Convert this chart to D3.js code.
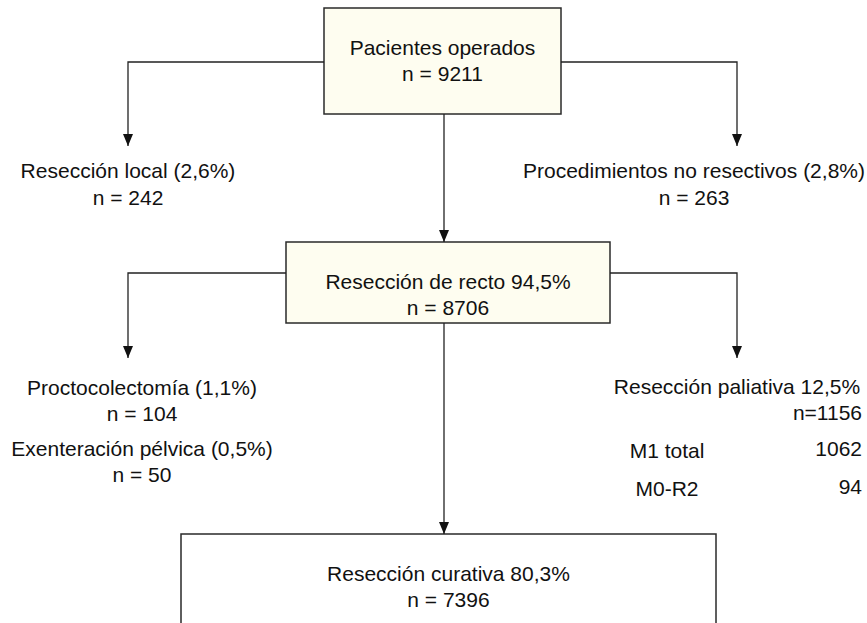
<!DOCTYPE html>
<html>
<head>
<meta charset="utf-8">
<script src="https://cdn.jsdelivr.net/npm/d3@7"></script>
<style>
  body { margin: 0; background: #fff; }
  text { font-family: "Liberation Sans", Arial, Helvetica, sans-serif; font-size: 21px; fill: #111; }
</style>
</head>
<body>
<div class="chart"></div>
<script>
var svgWidth = 867;
var svgHeight = 623;

// flow data
var boxTitles = ["Pacientes operados", "Resección de recto 94,5%", "Resección curativa 80,3%"];
var boxN = [9211, 8706, 7396];
var leftTitles = [["Resección local (2,6%)"], ["Proctocolectomía (1,1%)", "Exenteración pélvica (0,5%)"]];
var leftN = [[242], [104, 50]];
var rightTitles = ["Procedimientos no resectivos (2,8%)", "Resección paliativa 12,5%"];
var rightN = [263, 1156];
var paliativaRows = ["M1 total", "M0-R2"];
var paliativaN = [1062, 94];

var svg = d3.select(".chart")
  .append("svg")
  .attr("width", svgWidth)
  .attr("height", svgHeight);

// column and row scales
var xCol = d3.scaleOrdinal().domain(["left", "center", "right"]).range([128, 444, 737]);
var boxTop = d3.scaleOrdinal().domain([0, 1, 2]).range([8, 242, 534]);
var boxBottom = d3.scaleOrdinal().domain([0, 1]).range([114, 323]);
var boxLeft = d3.scaleOrdinal().domain([0, 1, 2]).range([324, 286, 181]);
var boxRight = d3.scaleOrdinal().domain([0, 1, 2]).range([561, 610, 716]);
var branchY = d3.scaleOrdinal().domain([0, 1]).range([62, 273]);
var tipY = d3.scaleOrdinal().domain([0, 1]).range([146, 358]);

svg.append("defs").append("marker")
  .attr("id", "arrow")
  .attr("viewBox", "0 0 12 10")
  .attr("refX", 12)
  .attr("refY", 5)
  .attr("markerWidth", 12)
  .attr("markerHeight", 10)
  .attr("markerUnits", "userSpaceOnUse")
  .attr("orient", "auto")
  .append("path")
  .attr("d", "M0,0 L12,5 L0,10 Z")
  .attr("fill", "#111");

var lineColor = "#222";

// boxes
var boxes = svg.selectAll(".box")
  .data(boxTitles)
  .enter().append("g")
  .attr("class", "box");

boxes.append("rect")
  .attr("x", function(d, i) { return boxLeft(i); })
  .attr("y", function(d, i) { return boxTop(i); })
  .attr("width", function(d, i) { return boxRight(i) - boxLeft(i); })
  .attr("height", function(d, i) { return i < 2 ? boxBottom(i) - boxTop(i) : svgHeight + 20 - boxTop(i); })
  .attr("fill", function(d, i) { return i < 2 ? "#fefdf0" : "#fff"; })
  .attr("stroke", "#2a2a2a")
  .attr("stroke-width", 1.5);

boxes.append("text")
  .attr("x", function(d, i) { return (boxLeft(i) + boxRight(i)) / 2; })
  .attr("y", function(d, i) { return boxTop(i) + 47; })
  .attr("text-anchor", "middle")
  .text(function(d) { return d; });

boxes.append("text")
  .attr("x", function(d, i) { return (boxLeft(i) + boxRight(i)) / 2; })
  .attr("y", function(d, i) { return boxTop(i) + 73; })
  .attr("text-anchor", "middle")
  .text(function(d, i) { return "n = " + boxN[i]; });

// central arrows between boxes
[0, 1].forEach(function(i) {
  svg.append("line")
    .attr("x1", xCol("center")).attr("y1", boxBottom(i))
    .attr("x2", xCol("center")).attr("y2", boxTop(i + 1))
    .attr("stroke", lineColor).attr("stroke-width", 1.3)
    .attr("marker-end", "url(#arrow)");
});

// side branches
[0, 1].forEach(function(i) {
  svg.append("path")
    .attr("d", "M" + boxLeft(i) + "," + branchY(i) + "H" + xCol("left") + "V" + tipY(i))
    .attr("fill", "none").attr("stroke", lineColor).attr("stroke-width", 1.3)
    .attr("marker-end", "url(#arrow)");
  svg.append("path")
    .attr("d", "M" + boxRight(i) + "," + branchY(i) + "H" + xCol("right") + "V" + tipY(i))
    .attr("fill", "none").attr("stroke", lineColor).attr("stroke-width", 1.3)
    .attr("marker-end", "url(#arrow)");
});

// left labels
svg.append("text").attr("x", xCol("left")).attr("y", 178).attr("text-anchor", "middle").text(leftTitles[0][0]);
svg.append("text").attr("x", xCol("left")).attr("y", 205).attr("text-anchor", "middle").text("n = " + leftN[0][0]);

var lowerLeftX = 142;
var lowerLeftY = [395, 456];
leftTitles[1].forEach(function(t, k) {
  svg.append("text").attr("x", lowerLeftX).attr("y", lowerLeftY[k]).attr("text-anchor", "middle").text(t);
  svg.append("text").attr("x", lowerLeftX).attr("y", lowerLeftY[k] + 26).attr("text-anchor", "middle").text("n = " + leftN[1][k]);
});

// right labels
svg.append("text").attr("x", 694).attr("y", 178).attr("text-anchor", "middle").text(rightTitles[0]);
svg.append("text").attr("x", 694).attr("y", 205).attr("text-anchor", "middle").text("n = " + rightN[0]);

svg.append("text").attr("x", xCol("right")).attr("y", 394).attr("text-anchor", "middle").text(rightTitles[1]);
svg.append("text").attr("x", 862).attr("y", 420).attr("text-anchor", "end").text("n=" + rightN[1]);

var rowY = d3.scalePoint().domain(paliativaRows).range([458, 496]);
paliativaRows.forEach(function(r, k) {
  svg.append("text").attr("x", 667).attr("y", rowY(r)).attr("text-anchor", "middle").text(r);
  svg.append("text").attr("x", 862).attr("y", rowY(r) - 2).attr("text-anchor", "end").text(paliativaN[k]);
});
</script>
</body>
</html>
